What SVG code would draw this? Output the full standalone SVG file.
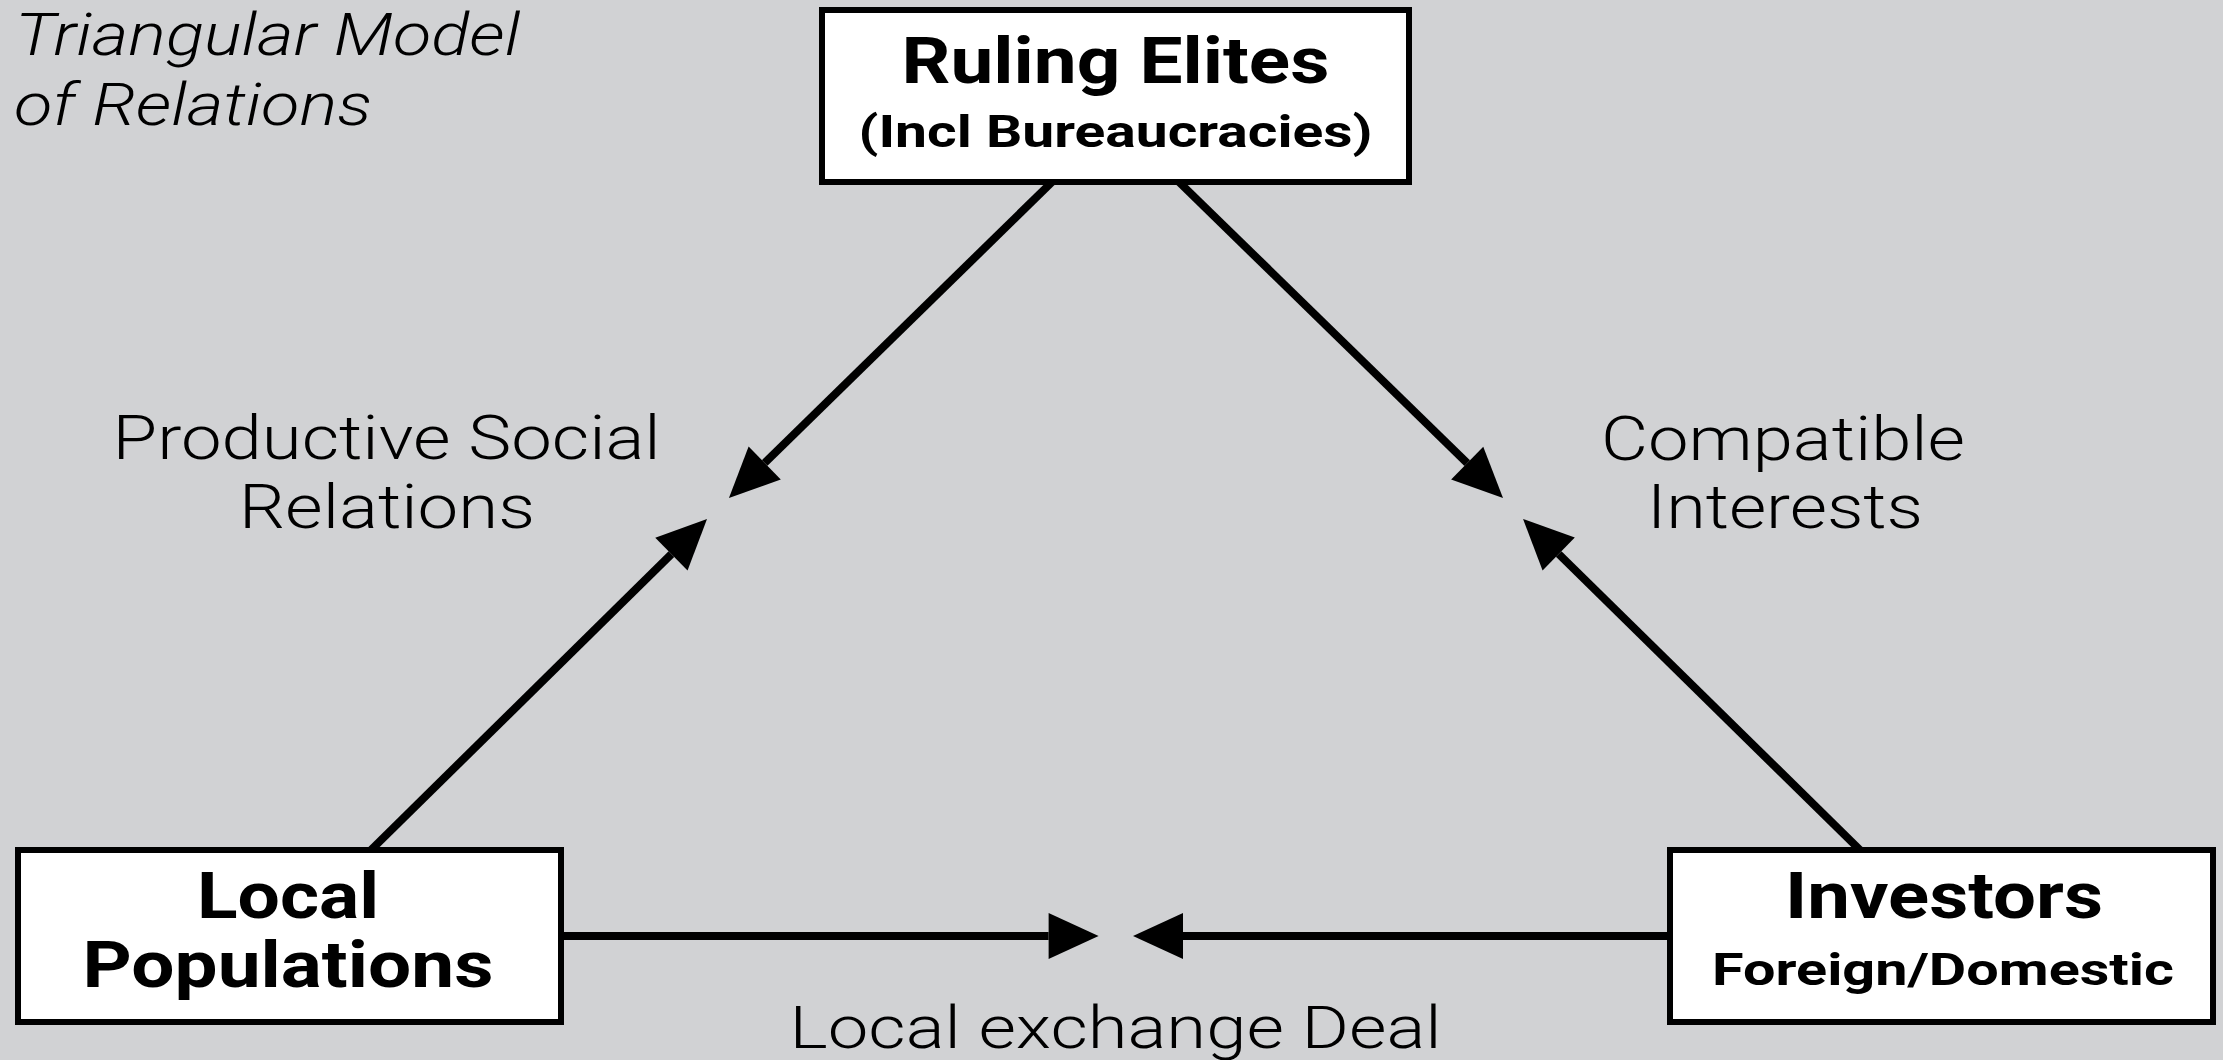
<svg xmlns="http://www.w3.org/2000/svg" width="2223" height="1060" viewBox="0 0 2223 1060">
<style>
.bg{fill:#d1d2d4}
.box{fill:#fff;stroke:#000;stroke-width:6}
.t{font-family:Roboto,"Liberation Sans",sans-serif;fill:#000;text-anchor:middle}
.b{font-weight:700}
.l{font-weight:300;font-size:61px}
.c{stroke:#000;stroke-width:8;fill:none;marker-end:url(#ah)}
</style>
<defs>
<marker id="ah" viewBox="0 -23 50 46" refX="0" refY="0" markerUnits="userSpaceOnUse" markerWidth="50" markerHeight="46" orient="auto" overflow="visible">
<path d="M0,-23 L50,0 L0,23 z" fill="#000"/>
</marker>
</defs>
<rect class="bg" x="0" y="0" width="2223" height="1060"/>
<text class="t" x="15" y="55" textLength="505" lengthAdjust="spacingAndGlyphs" style="text-anchor:start;font-size:60px;font-style:italic;font-weight:300">Triangular Model</text>
<text class="t" x="14" y="125" textLength="358" lengthAdjust="spacingAndGlyphs" style="text-anchor:start;font-size:60px;font-style:italic;font-weight:300">of Relations</text>
<g id="connectors">
<line class="c" x1="1052" y1="182" x2="764.7" y2="463"/>
<line class="c" x1="371" y1="850" x2="671.4" y2="554.1"/>
<line class="c" x1="1179" y1="182" x2="1467.2" y2="463.1"/>
<line class="c" x1="1860" y1="850" x2="1558.7" y2="554"/>
<line class="c" x1="561" y1="936" x2="1048.6" y2="936"/>
<line class="c" x1="1670" y1="936" x2="1183" y2="936"/>
</g>
<g id="ruling-elites">
<rect class="box" x="822" y="10" width="587" height="172"/>
<text class="t b" x="1115.5" y="83" font-size="65" textLength="428" lengthAdjust="spacingAndGlyphs">Ruling Elites</text>
<text class="t b" x="1115.5" y="147" font-size="45" textLength="514" lengthAdjust="spacingAndGlyphs">(Incl Bureaucracies)</text>
</g>
<g id="local-populations">
<rect class="box" x="18" y="850" width="543" height="172"/>
<text class="t b" x="288" y="918" font-size="65" textLength="182" lengthAdjust="spacingAndGlyphs">Local</text>
<text class="t b" x="288" y="987" font-size="65" textLength="411" lengthAdjust="spacingAndGlyphs">Populations</text>
</g>
<g id="investors">
<rect class="box" x="1670" y="850" width="543" height="172"/>
<text class="t b" x="1944" y="918" font-size="65" textLength="318" lengthAdjust="spacingAndGlyphs">Investors</text>
<text class="t b" x="1943" y="985" font-size="45" textLength="462" lengthAdjust="spacingAndGlyphs">Foreign/Domestic</text>
</g>
<g id="labels">
<text class="t l" x="386.6" y="459" textLength="548" lengthAdjust="spacingAndGlyphs">Productive Social</text>
<text class="t l" x="387" y="528" textLength="296" lengthAdjust="spacingAndGlyphs">Relations</text>
<text class="t l" x="1783" y="460" textLength="364" lengthAdjust="spacingAndGlyphs">Compatible</text>
<text class="t l" x="1785" y="528" textLength="276" lengthAdjust="spacingAndGlyphs">Interests</text>
<text class="t l" x="1115.5" y="1048" textLength="652" lengthAdjust="spacingAndGlyphs" style="font-size:60px">Local exchange Deal</text>
</g>
</svg>
